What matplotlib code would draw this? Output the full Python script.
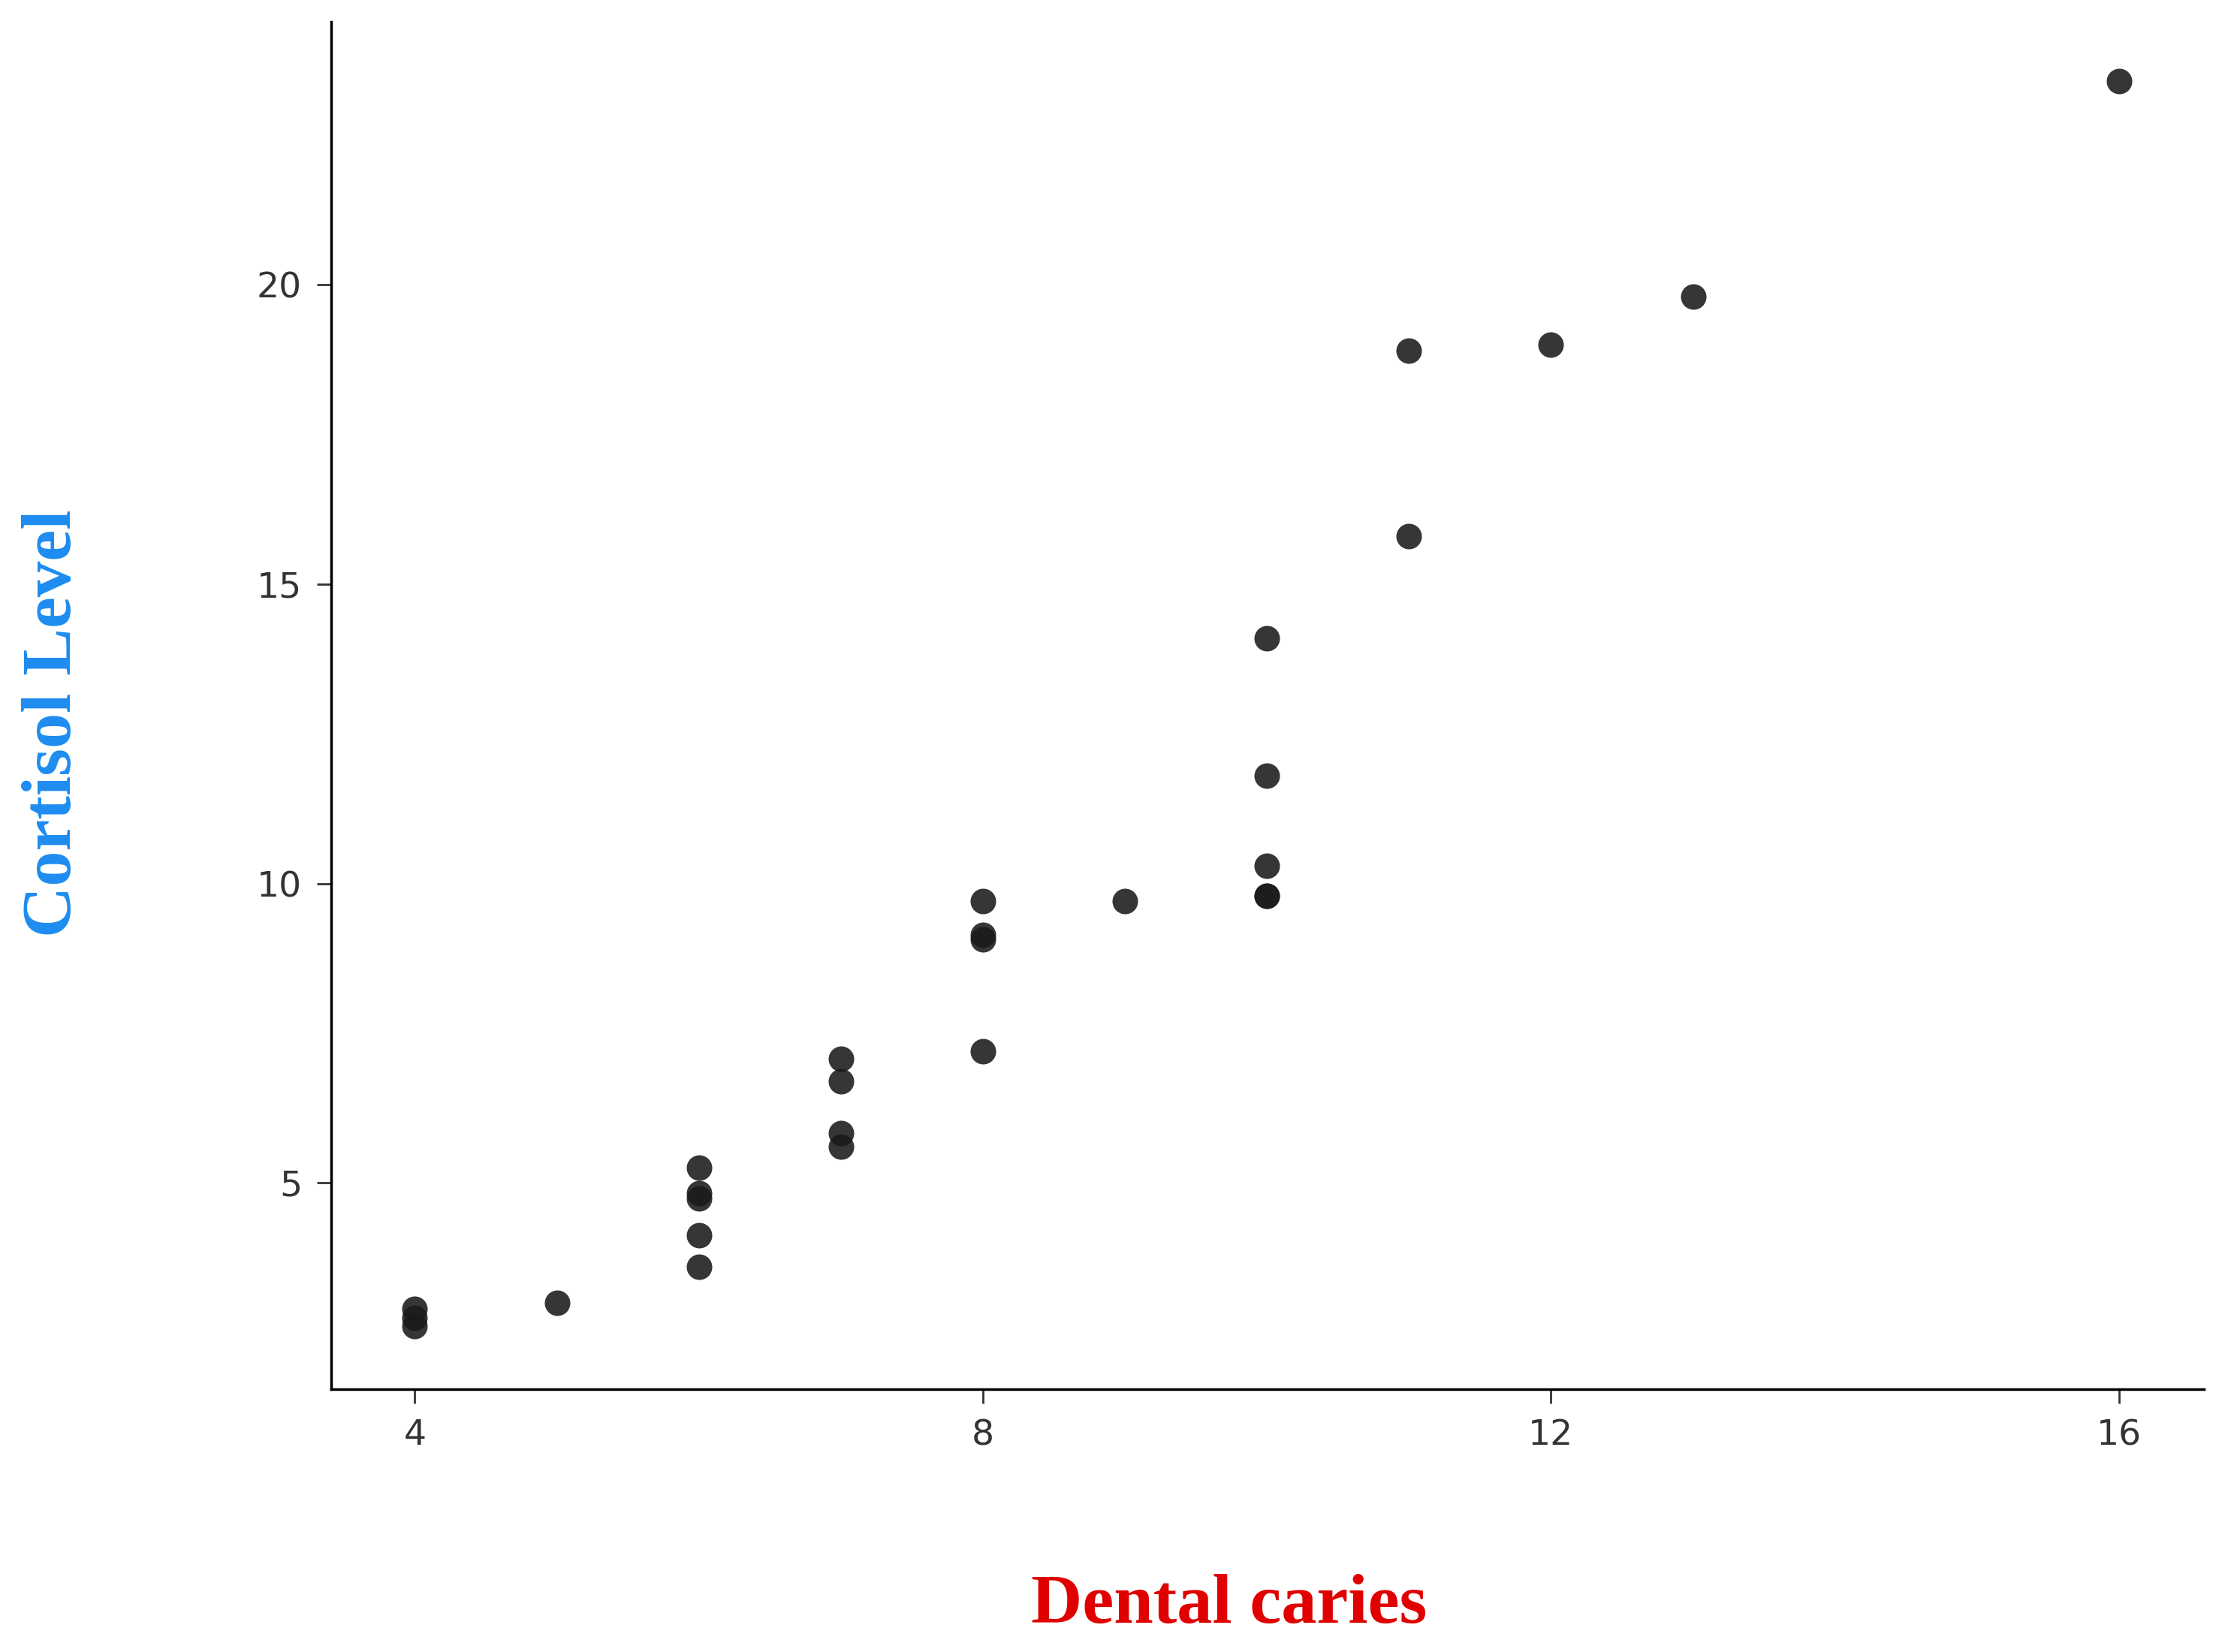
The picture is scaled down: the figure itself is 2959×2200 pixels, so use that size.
import matplotlib.pyplot as plt

# data
caries = [4, 4, 4, 5, 6, 6, 6, 6, 6, 7, 7, 7, 7, 8, 8, 8, 8, 9,
          10, 10, 10, 10, 10, 11, 11, 12, 13, 16]
cortisol = [2.9, 2.75, 2.6, 3.0, 5.25, 4.83, 4.74, 4.12, 3.6, 7.07, 6.7, 5.83, 5.6,
            9.7, 9.14, 9.07, 7.2, 9.7, 14.1, 11.8, 10.3, 9.8, 9.8, 18.9, 15.8, 19.0, 19.8, 23.4]
xticks = [4, 8, 12, 16]
yticks = [5, 10, 15, 20]

fig = plt.figure(figsize=(29.59, 22), dpi=100)
ax = fig.add_axes([0.149, 0.159, 0.843, 0.828])
ax.scatter(caries, cortisol, s=600, color='#1a1a1a', alpha=0.88, linewidths=0)

ax.set_xlim(3.41, 16.6)
ax.set_ylim(1.55, 24.4)
ax.set_xticks(xticks)
ax.set_yticks(yticks)
ax.tick_params(labelsize=34, length=14, width=2, colors='#333333', pad=14)
for s in ['top', 'right']:
    ax.spines[s].set_visible(False)
for s in ['left', 'bottom']:
    ax.spines[s].set_linewidth(2.5)

fig.text(0.553, 0.028, 'Dental caries', color='#e00000', fontsize=68,
         fontweight='bold', family='Liberation Serif', ha='center', va='center')
fig.text(0.024, 0.562, 'Cortisol Level', color='#1e8cf0', fontsize=68,
         fontweight='bold', family='Liberation Serif', ha='center', va='center',
         rotation=90)

fig.savefig('out.png', dpi=100)
